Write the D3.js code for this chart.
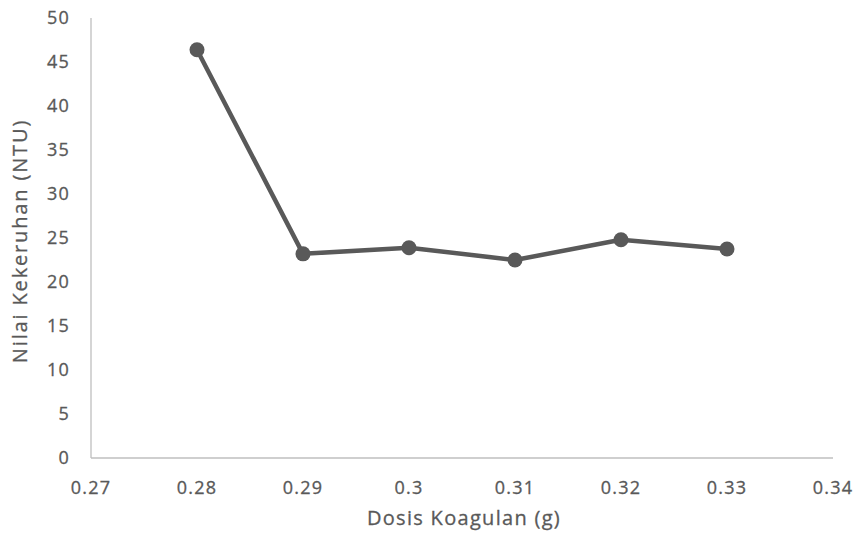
<!DOCTYPE html>
<html>
  <head>
    <meta charset="utf-8">
    <title>Nilai Kekeruhan</title>
    <script src="https://d3js.org/d3.v7.min.js"></script>
    <style>
      body { margin: 0; background: #fff; }
      text { font-family: "Open Sans", sans-serif; fill: #595959; stroke: #595959; stroke-width: 0.3px; }
    </style>
  </head>
  <body>
    <svg width="855" height="542"></svg>
    <script>
      // data
      const dosis = [0.28, 0.29, 0.30, 0.31, 0.32, 0.33];
      const kekeruhan = [46.4, 23.2, 23.9, 22.5, 24.8, 23.75];
      const xTicks = [0.27, 0.28, 0.29, 0.30, 0.31, 0.32, 0.33, 0.34];
      const yTicks = [0, 5, 10, 15, 20, 25, 30, 35, 40, 45, 50];

      const svg = d3.select("svg");
      const plotLeft = 91, plotRight = 833, plotTop = 18, plotBottom = 458;

      const x = d3.scaleLinear().domain([0.27, 0.34]).range([plotLeft, plotRight]);
      const y = d3.scaleLinear().domain([0, 50]).range([plotBottom, plotTop]);

      // axes lines
      svg.append("line")
        .attr("x1", plotLeft).attr("x2", plotLeft)
        .attr("y1", plotTop).attr("y2", plotBottom)
        .attr("stroke", "#bfbfbf").attr("stroke-width", 1.3);
      svg.append("line")
        .attr("x1", plotLeft).attr("x2", plotRight)
        .attr("y1", plotBottom).attr("y2", plotBottom)
        .attr("stroke", "#bfbfbf").attr("stroke-width", 1.3);

      // tick labels
      svg.selectAll(".ylab")
        .data(yTicks)
        .enter().append("text")
        .attr("x", plotLeft - 21)
        .attr("y", d => y(d))
        .attr("dy", "0.36em")
        .attr("text-anchor", "end")
        .attr("font-size", 18)
        .attr("letter-spacing", 1.2)
        .text(d => d);

      svg.selectAll(".xlab")
        .data(xTicks)
        .enter().append("text")
        .attr("x", d => x(d))
        .attr("y", plotBottom + 36)
        .attr("text-anchor", "middle")
        .attr("font-size", 18)
        .attr("letter-spacing", 1.2)
        .text(d => String(+d.toFixed(2)));

      // axis titles
      svg.append("text")
        .attr("x", 464)
        .attr("y", 525)
        .attr("text-anchor", "middle")
        .attr("font-size", 20)
        .attr("letter-spacing", 1.3)
        .text("Dosis Koagulan (g)");

      svg.append("text")
        .attr("transform", "translate(27,241) rotate(-90)")
        .attr("text-anchor", "middle")
        .attr("font-size", 20)
        .attr("letter-spacing", 1.85)
        .text("Nilai Kekeruhan (NTU)");

      // the series
      const pts = dosis.map((d, i) => [d, kekeruhan[i]]);
      const line = d3.line().x(d => x(d[0])).y(d => y(d[1]));

      svg.append("path")
        .datum(pts)
        .attr("d", line)
        .attr("fill", "none")
        .attr("stroke", "#595959")
        .attr("stroke-width", 4.5)
        .attr("stroke-linejoin", "round");

      svg.selectAll("circle")
        .data(pts)
        .enter().append("circle")
        .attr("cx", d => x(d[0]))
        .attr("cy", d => y(d[1]))
        .attr("r", 7.5)
        .attr("fill", "#595959");
    </script>
  </body>
</html>
